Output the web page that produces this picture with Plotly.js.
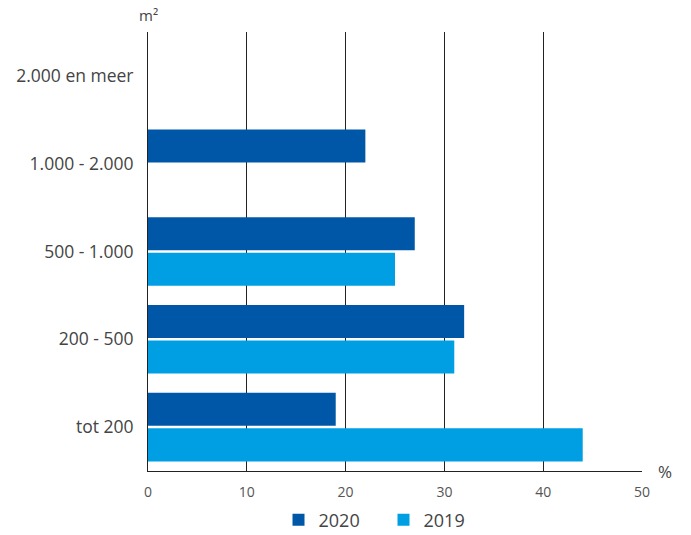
<!DOCTYPE html>
<html>
<head>
<meta charset="utf-8">
<script src="https://cdn.plot.ly/plotly-3.0.1.min.js"></script>
<style>html,body{margin:0;padding:0;background:#fff;}#chart{width:691px;height:535px;}</style>
</head>
<body>
<div id="chart"></div>
<script>
const categories = ["tot 200", "200 - 500", "500 - 1.000", "1.000 - 2.000", "2.000 en meer"];
const values2020 = [19, 32, 27, 22, 0];
const values2019 = [44, 31, 25, 0, 0];
const xTicks = [0, 10, 20, 30, 40, 50];

const font = "'Open Sans', Lato, sans-serif";

const data = [
  {type: "bar", orientation: "h", name: "2019", y: categories, x: values2019,
   marker: {color: "#009FE3"}, hoverinfo: "x"},
  {type: "bar", orientation: "h", name: "2020", y: categories, x: values2020,
   marker: {color: "#0057A8"}, hoverinfo: "x"}
];

const layout = {
  width: 691, height: 535,
  margin: {l: 148, r: 49, t: 32, b: 64, autoexpand: false},
  paper_bgcolor: "#fff", plot_bgcolor: "#fff",
  barmode: "group", bargap: 0.19, bargroupgap: 0.07,
  font: {family: font, color: "#444"},
  xaxis: {
    range: [0, 50], tickvals: xTicks, ticktext: xTicks.map(String),
    showgrid: true, gridcolor: "#222", gridwidth: 1,
    zeroline: false, showline: true, linecolor: "#222", linewidth: 1,
    ticks: "", ticklabelstandoff: 8, tickfont: {size: 14, color: "#555", family: font},
    automargin: false, fixedrange: true
  },
  yaxis: {
    type: "category", categoryorder: "array", categoryarray: categories,
    range: [-0.5, 4.5],
    showgrid: false, zeroline: false, showline: true, linecolor: "#222", linewidth: 1,
    ticks: "", ticklabelstandoff: 10,
    tickfont: {size: 17.5, color: "#444", family: font},
    automargin: false, fixedrange: true
  },
  showlegend: true,
  legend: {orientation: "h", traceorder: "reversed",
           xref: "container", x: 0.555, xanchor: "center",
           yref: "container", y: 0.028, yanchor: "middle",
           entrywidth: 60, entrywidthmode: "pixels",
           tracegroupgap: 0, borderwidth: 0,
           font: {size: 18, color: "#444", family: font},
           itemclick: false},
  annotations: [
    {text: "m²", xref: "paper", yref: "paper", x: 0, y: 1, xanchor: "center", yanchor: "bottom",
     yshift: 5, showarrow: false, font: {size: 15, color: "#444", family: font}},
    {text: "%", xref: "paper", yref: "paper", x: 1, y: 0, xanchor: "left", yanchor: "middle",
     xshift: 14, showarrow: false, font: {size: 17, color: "#444", family: font}}
  ]
};

Plotly.newPlot("chart", data, layout, {displayModeBar: false, staticPlot: true});
</script>
</body>
</html>
